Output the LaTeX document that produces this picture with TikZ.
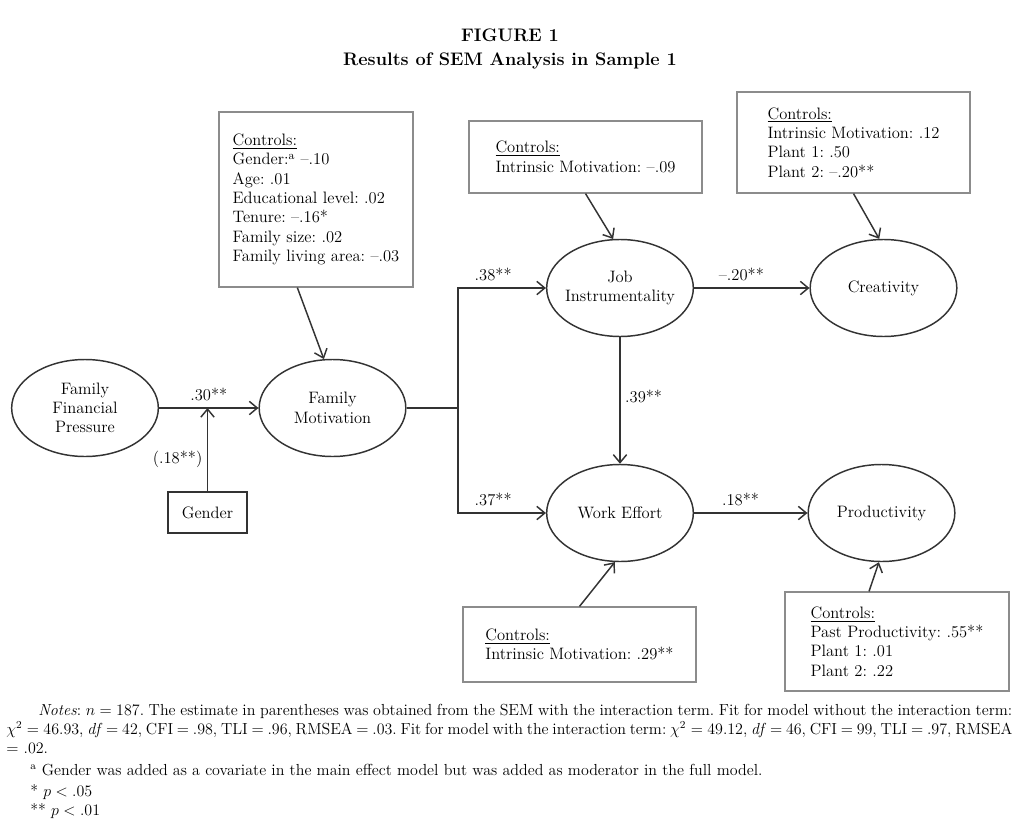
\documentclass[tikz,border=0pt]{standalone}
\usepackage{amsmath}
\usepackage{tikz}
\usetikzlibrary{positioning, shapes.geometric, arrows.meta}
\definecolor{linegray}{HTML}{333333}
\definecolor{boxgray}{HTML}{8C8C8C}
\frenchspacing

\begin{document}
\begin{tikzpicture}[x=0.75pt, y=-0.75pt,
    font=\fontsize{12.4}{14.5}\selectfont,
    latent/.style={ellipse, draw=linegray, line width=1.1pt, minimum width=110pt, minimum height=72.75pt, inner sep=0pt, align=center},
    ctrl/.style={rectangle, draw=boxgray, line width=0.9pt, align=left, inner sep=0pt},
    obs/.style={rectangle, draw=linegray, line width=1.1pt, minimum width=59.25pt, minimum height=30.75pt},
    path/.style={draw=linegray, line width=1.1pt},
    arr/.style={path, -{Straight Barb[length=6pt, width=10pt]}},
    coef/.style={above, inner sep=1pt, yshift=3.5pt},
    headline/.style={anchor=base, inner sep=0pt, font=\fontsize{13.6}{15}\selectfont\bfseries},
    note/.style={anchor=base west, inner sep=0pt, font=\fontsize{12}{14}\selectfont}]

    \useasboundingbox (0,0) rectangle (1027,824);

    \node[headline] (title1) at (510, 42) {FIGURE 1};
    \node[headline] (title2) at (510, 65) {Results of SEM Analysis in Sample 1};

    % latent variables
    \node[latent] (FFP) at (85, 408) {Family\\Financial\\Pressure};
    \node[latent] (FM) at (332.5, 408) {Family\\Motivation};
    \node[latent, inner xsep=-4pt] (Job) at (620, 288) {Job\\Instrumentality};
    \node[latent] (Creat) at (883.5, 288) {Creativity};
    \node[latent] (WE) at (620, 513) {Work Effort};
    \node[latent] (Prod) at (881.5, 513) {Productivity};
    \node[obs] (Gender) at (207.5, 512.5) {Gender};

    % control boxes
    \node[ctrl, minimum width=145.5pt, minimum height=131.25pt] (FMbox) at (316, 199.5)
        {\underline{Controls:}\\Gender:\textsuperscript{a} \textendash.10\\Age: .01\\Educational level: .02\\Tenure: \textendash.16*\\Family size: .02\\Family living area: \textendash.03};
    \node[ctrl, minimum width=174.75pt, minimum height=54pt] (Jobbox) at (585.5, 157)
        {\underline{Controls:}\\Intrinsic Motivation: \textendash.09};
    \node[ctrl, minimum width=174.75pt, minimum height=75.75pt] (Creatbox) at (853.5, 142.5)
        {\underline{Controls:}\\Intrinsic Motivation: .12\\Plant 1: .50\\Plant 2: \textendash.20**};
    \node[ctrl, minimum width=174.75pt, minimum height=56.25pt] (WEbox) at (579.5, 644.5)
        {\underline{Controls:}\\Intrinsic Motivation: .29**};
    \node[ctrl, minimum width=168pt, minimum height=74.25pt] (Prodbox) at (897, 641.5)
        {\underline{Controls:}\\Past Productivity: .55**\\Plant 1: .01\\Plant 2: .22};

    % paths
    \coordinate (split) at (458, 408);
    \draw[arr] (FFP) -- node[coef] {.30**} (FM);
    \draw[arr] (Gender) -- node[left, pos=0.38] {(.18**)} (Gender |- FFP);
    \draw[path] (FM) -- (split);
    \draw[arr] (split) |- node[coef, pos=0.7] {.38**} (Job);
    \draw[arr] (split) |- node[coef, pos=0.7] {.37**} (WE);
    \draw[arr] (Job) -- node[coef, pos=0.41] {\textendash.20**} (Creat);
    \draw[arr] (Job) -- node[right, pos=0.47] {.39**} (WE);
    \draw[arr] (WE) -- node[coef, pos=0.41] {.18**} (Prod);

    \draw[arr] ([xshift=-14pt]FMbox.south) -- (FM.100);
    \draw[arr] (Jobbox.south) -- (Job.98);
    \draw[arr] (Creatbox.south) -- (Creat.95);
    \draw[arr] (WEbox.north) -- (WE.264);
    \draw[arr] ([xshift=-21pt]Prodbox.north) -- (Prod.267);

    % notes
    \node[note] (note1) at (38, 715) {\makebox[730.5pt][s]{\textit{Notes}: $n = 187$. The estimate in parentheses was obtained from the SEM with the interaction term. Fit for model without the interaction term:}};
    \node[note] (note2) at (6, 734) {\makebox[754.5pt][s]{$\chi^2 = 46.93$, \textit{df} = 42, CFI = .98, TLI = .96, RMSEA = .03. Fit for model with the interaction term: $\chi^2 = 49.12$, \textit{df} = 46, CFI = 99, TLI = .97, RMSEA}};
    \node[note] (note3) at (6, 753) {= .02.};
    \node[note] (note4) at (30, 775) {\textsuperscript{a} Gender was added as a covariate in the main effect model but was added as moderator in the full model.};
    \node[note] (note5) at (30, 796) {* $p < .05$};
    \node[note] (note6) at (30, 815) {** $p < .01$};
\end{tikzpicture}
\end{document}
